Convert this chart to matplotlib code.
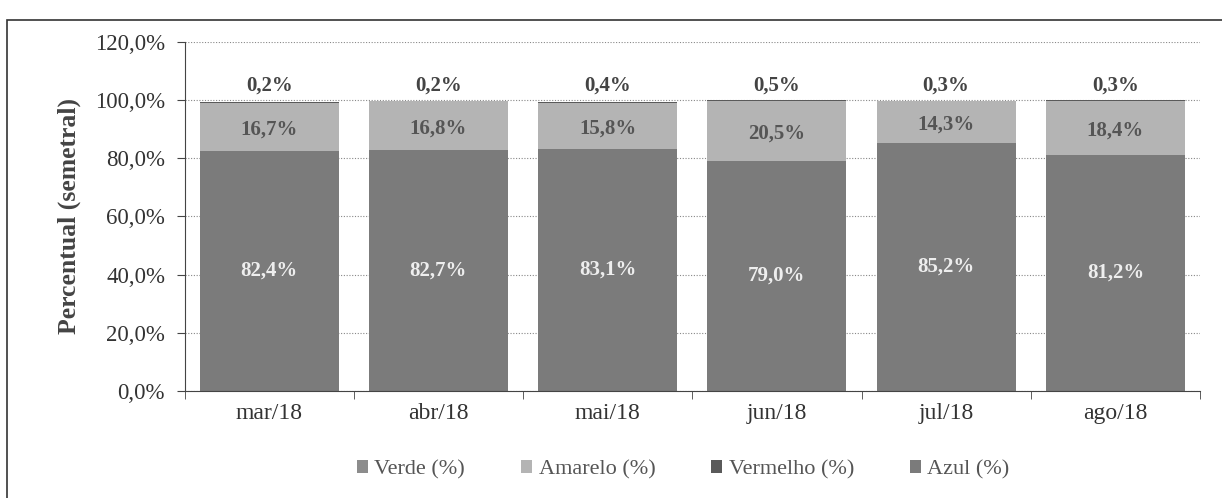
import matplotlib.pyplot as plt
from matplotlib.patches import Rectangle
import numpy as np

plt.rcParams['font.family'] = ['Liberation Serif', 'DejaVu Serif']

meses = ["mar/18", "abr/18", "mai/18", "jun/18", "jul/18", "ago/18"]
verde = [0.0, 0.0, 0.0, 0.0, 0.0, 0.0]
amarelo = [16.7, 16.8, 15.8, 20.5, 14.3, 18.4]
vermelho = [0.2, 0.2, 0.4, 0.5, 0.3, 0.3]
azul = [82.4, 82.7, 83.1, 79.0, 85.2, 81.2]
yticks = [0, 20, 40, 60, 80, 100, 120]

c_verde = "#8c8c8c"
c_amarelo = "#b4b4b4"
c_vermelho = "#5a5a5a"
c_azul = "#7b7b7b"


def pct(v):
    return f"{v:.1f}%".replace(".", ",")


fig = plt.figure(figsize=(12.22, 4.98), dpi=100)
ax = fig.add_axes([0.151, 0.215, 0.831, 0.701])

x = np.arange(len(meses))
w = 0.82

# figure frame (scan shows left and top edges)
fig.patches.append(Rectangle((0.006, -0.05), 1.1, 1.01, transform=fig.transFigure,
                             fill=False, edgecolor="#333333", lw=1.2))

b_azul = ax.bar(x, azul, w, color=c_azul, label="Azul (%)", zorder=2)
b_am = ax.bar(x, amarelo, w, bottom=azul, color=c_amarelo, label="Amarelo (%)", zorder=2)
base2 = np.array(azul) + np.array(amarelo)
b_ver = ax.bar(x, vermelho, w, bottom=base2, color=c_vermelho, label="Vermelho (%)", zorder=2)
base3 = base2 + np.array(vermelho)
b_vd = ax.bar(x, verde, w, bottom=base3, color=c_verde, label="Verde (%)", zorder=2)

for i in range(len(meses)):
    ax.text(x[i], azul[i] / 2, pct(azul[i]), ha="center", va="center",
            fontsize=15, fontweight="bold", color="#eeeeee", zorder=3)
    ax.text(x[i], azul[i] + amarelo[i] / 2 - 0.8, pct(amarelo[i]), ha="center", va="center",
            fontsize=15, fontweight="bold", color="#555555", zorder=3)
    ax.text(x[i], 105.0, pct(vermelho[i]), ha="center", va="center",
            fontsize=15, fontweight="bold", color="#444444", zorder=3)

ax.set_xlim(-0.5, len(meses) - 0.5)
ax.set_ylim(0, 120)
ax.set_yticks(yticks)
ax.set_yticklabels([pct(v) for v in yticks], fontsize=16.5, color="#333333")
ax.set_xticks(x)
ax.set_xticklabels(meses, fontsize=17, color="#333333")
ax.tick_params(axis="x", length=0, pad=9)
ax.set_xticks(np.arange(-0.5, len(meses)), minor=True)
ax.tick_params(axis="x", which="minor", length=6, color="#444444")
ax.tick_params(axis="y", length=6, color="#444444", pad=8)

ax.grid(axis="y", linestyle=(0, (1, 1.5)), color="#888888", lw=0.8, zorder=0)
for s in ["top", "right"]:
    ax.spines[s].set_visible(False)
ax.spines["left"].set_color("#444444")
ax.spines["bottom"].set_color("#444444")

ax.set_ylabel("Percentual (semetral)", fontsize=18.5, fontweight="bold", color="#444444", labelpad=10)

handles = [b_vd, b_am, b_ver, b_azul]
labels = ["Verde (%)", "Amarelo (%)", "Vermelho (%)", "Azul (%)"]
leg = fig.legend(handles, labels, loc="center", bbox_to_anchor=(0.559, 0.057),
                 ncol=4, frameon=False, fontsize=16, handlelength=0.5, handleheight=0.5,
                 columnspacing=2.5, handletextpad=0.3)
for t in leg.get_texts():
    t.set_color("#555555")

plt.savefig("out.png", dpi=100)
